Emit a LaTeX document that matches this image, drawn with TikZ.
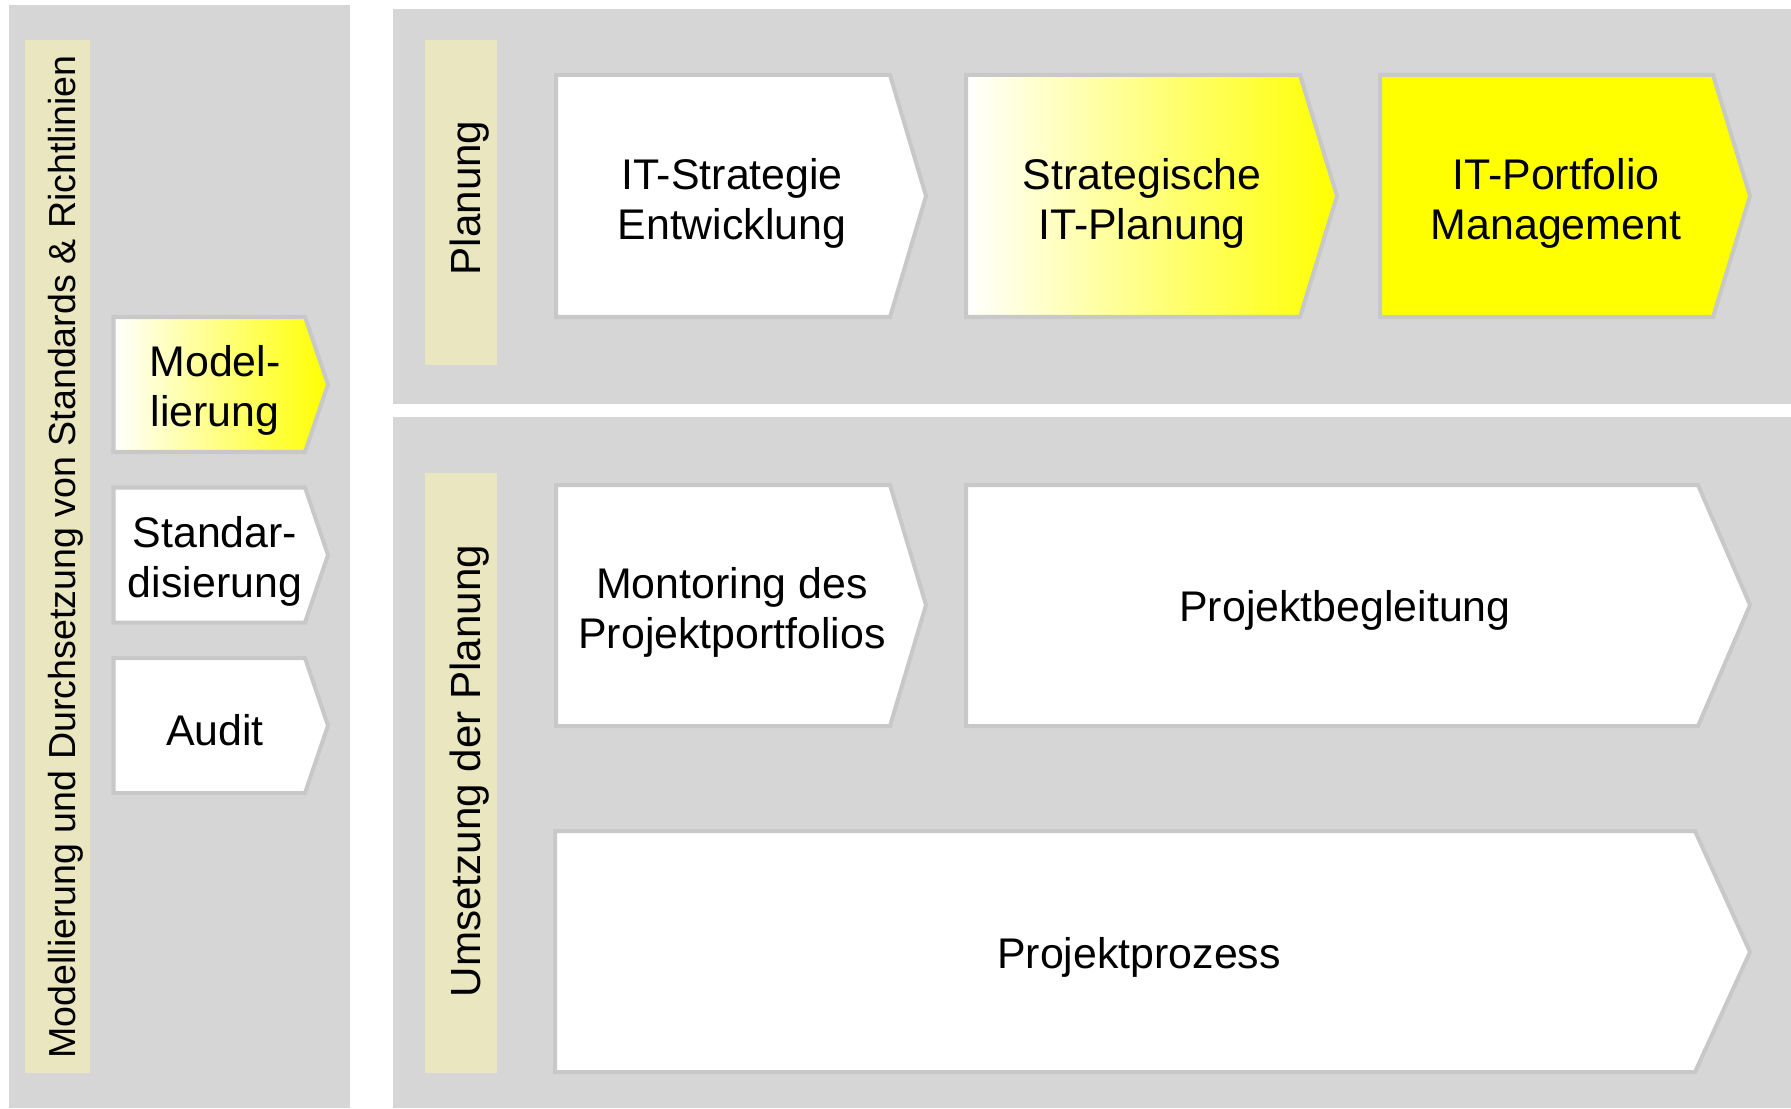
\documentclass[tikz,border=0pt]{standalone}
\usepackage{fontspec}
\setmainfont{Liberation Sans}
\definecolor{panelgray}{RGB}{214,214,214}
\definecolor{barbeige}{RGB}{233,230,192}
\definecolor{boxline}{RGB}{200,200,200}
\definecolor{boxyellow}{RGB}{255,255,0}
\begin{document}
\begin{tikzpicture}[
    panel/.style={fill=panelgray},
    bar/.style={fill=barbeige},
    chev/.style={draw=boxline, line width=1.14pt, fill=white},
    boxtxt/.style={align=center, font=\fontsize{12.2}{14.2}\selectfont},
    bartxt/.style={rotate=90, anchor=base, font=\fontsize{12}{14}\selectfont}]
    \useasboundingbox (0, 0) rectangle (17.91, 11.08);
         \fill[panel] (0.09, 0) rectangle (3.50, 11.03);
             \fill[bar] (0.25, 0.35) rectangle (0.90, 10.68);
             \node[bartxt, font=\fontsize{10.7}{12.5}\selectfont] (richtl) at (0.75, 5.51){Modellierung und Durchsetzung von Standards \& Richtlinien};
             \draw[chev, left color=white, right color=boxyellow] (1.135, 7.91) to (3.05, 7.91) to (3.28, 7.235) to (3.05, 6.56) to (1.135, 6.56) -- cycle;
             \node[boxtxt] (model) at (2.15, 7.175){Model-\\lierung};
             \draw[chev] (1.135, 6.205) to (3.05, 6.205) to (3.28, 5.53) to (3.05, 4.855) to (1.135, 4.855) -- cycle;
             \node[boxtxt] (standard) at (2.15, 5.47){Standar-\\disierung};
             \draw[chev] (1.135, 4.50) to (3.05, 4.50) to (3.28, 3.825) to (3.05, 3.15) to (1.135, 3.15) -- cycle;
             \node[boxtxt] (audit) at (2.15, 3.775){Audit};
         \fill[panel] (3.93, 7.04) rectangle (17.91, 10.99);
             \fill[bar] (4.25, 7.43) rectangle (4.97, 10.68);
             \node[bartxt] (planung) at (4.80, 9.10){Planung};
             \draw[chev] (5.56, 10.33) to (8.90, 10.33) to (9.26, 9.12) to (8.90, 7.91) to (5.56, 7.91) -- cycle;
             \node[boxtxt] (itstrat) at (7.32, 9.05){IT-Strategie\\Entwicklung};
             \draw[chev, left color=white, right color=boxyellow] (9.66, 10.33) to (13.00, 10.33) to (13.37, 9.12) to (13.00, 7.91) to (9.66, 7.91) -- cycle;
             \node[boxtxt] (stratplan) at (11.42, 9.05){Strategische\\IT-Planung};
             \draw[chev, fill=boxyellow] (13.80, 10.33) to (17.13, 10.33) to (17.50, 9.12) to (17.13, 7.91) to (13.80, 7.91) -- cycle;
             \node[boxtxt] (portfolio) at (15.56, 9.05){IT-Portfolio\\Management};
         \fill[panel] (3.93, 0) rectangle (17.91, 6.91);
             \fill[bar] (4.25, 0.35) rectangle (4.97, 6.35);
             \node[bartxt] (umsetzung) at (4.80, 3.37){Umsetzung der Planung};
             \draw[chev] (5.56, 6.23) to (8.90, 6.23) to (9.26, 5.03) to (8.90, 3.82) to (5.56, 3.82) -- cycle;
             \node[boxtxt] (monitoring) at (7.32, 4.96){Montoring des\\Projektportfolios};
             \draw[chev] (9.66, 6.23) to (16.98, 6.23) to (17.50, 5.03) to (16.98, 3.82) to (9.66, 3.82) -- cycle;
             \node[boxtxt] (begleitung) at (13.45, 4.98){Projektbegleitung};
             \draw[chev] (5.55, 2.77) to (16.95, 2.77) to (17.50, 1.56) to (16.95, 0.36) to (5.55, 0.36) -- cycle;
             \node[boxtxt] (prozess) at (11.39, 1.51){Projektprozess};
\end{tikzpicture}
\end{document}
